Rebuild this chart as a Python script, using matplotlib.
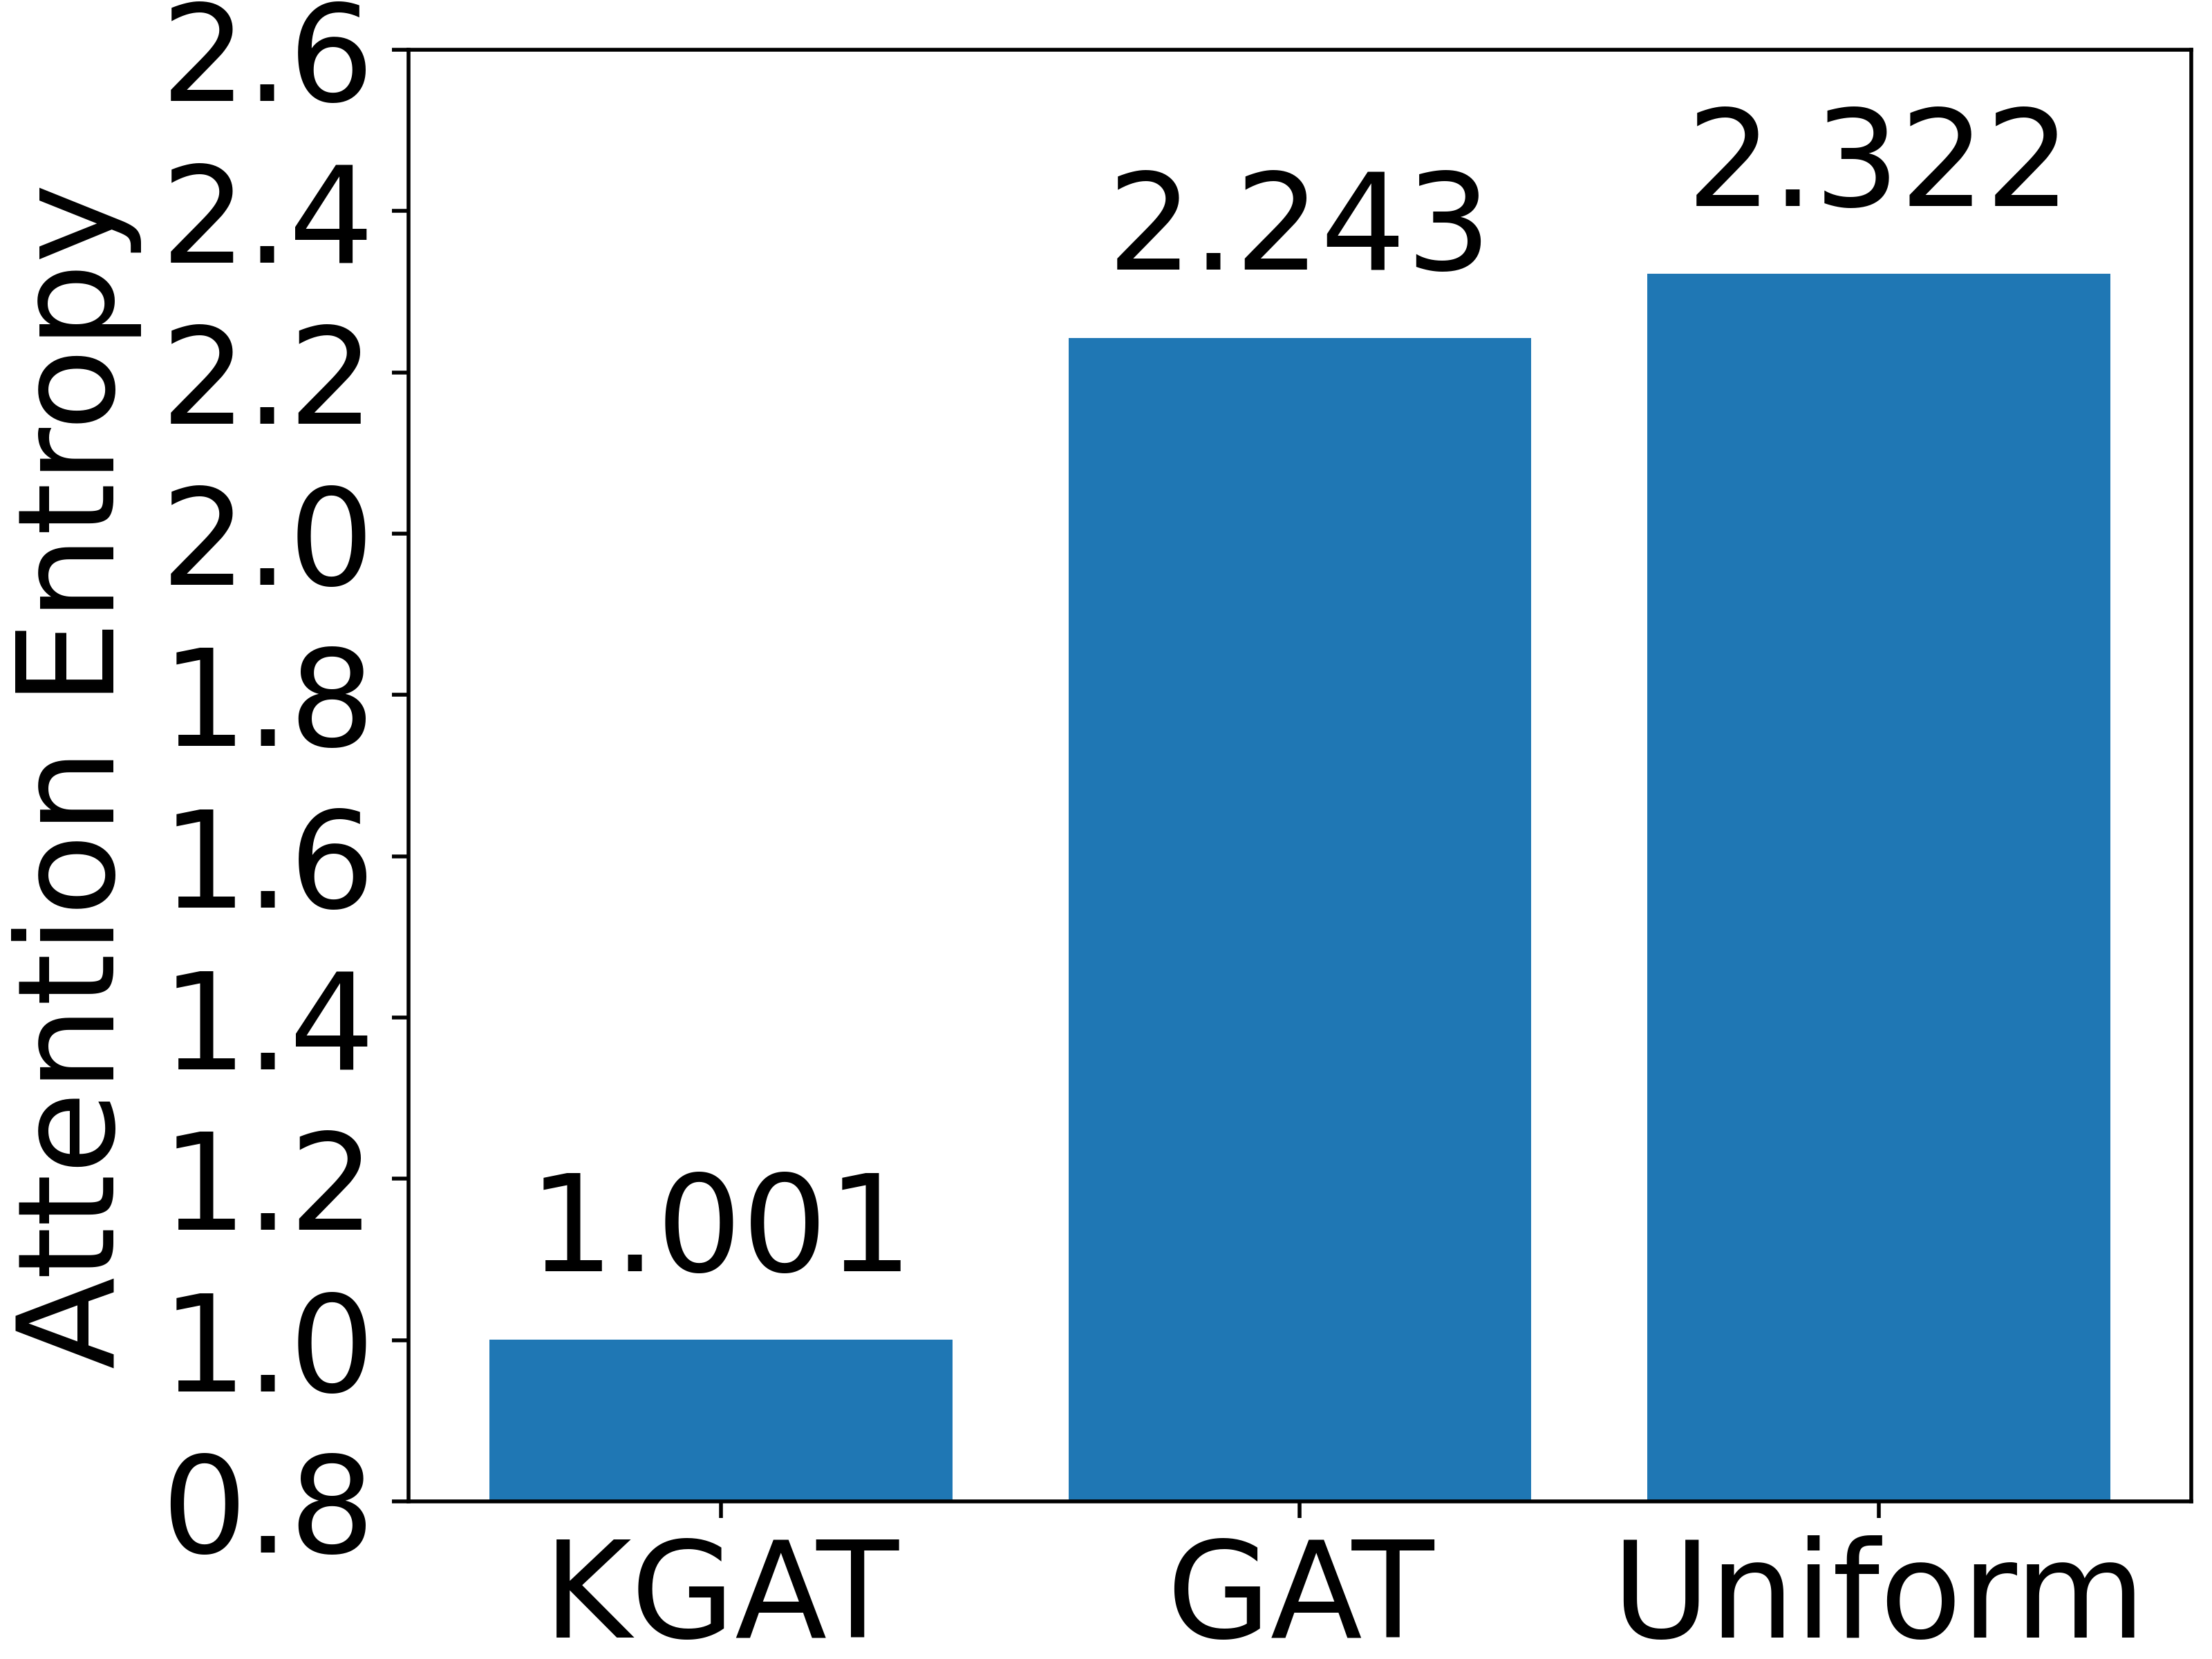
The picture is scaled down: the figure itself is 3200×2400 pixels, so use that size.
import matplotlib

matplotlib.use("Agg")

import matplotlib.pyplot as plt

methods = ["KGAT", "GAT", "Uniform"]
entropy = [1.001, 2.243, 2.322]
y_ticks = [0.8, 1.0, 1.2, 1.4, 1.6, 1.8, 2.0, 2.2, 2.4, 2.6]

plt.rcParams["font.size"] = 28

fig, ax = plt.subplots(figsize=(6.4, 4.8), dpi=500)
fig.subplots_adjust(left=0.1847, right=0.9906, bottom=0.095, top=0.97)

x = range(len(methods))
ax.bar(x, entropy, color="#1f77b4", width=0.8)
for xi, v in zip(x, entropy):
    ax.text(xi, v + 0.05, f"{v:.3f}", ha="center", va="bottom")

ax.set_xticks(list(x))
ax.set_xticklabels(methods)
ax.set_ylim(0.8, 2.6)
ax.set_yticks(y_ticks)
ax.set_ylabel("Attention Entropy")

fig.savefig("out.png", dpi=500)
